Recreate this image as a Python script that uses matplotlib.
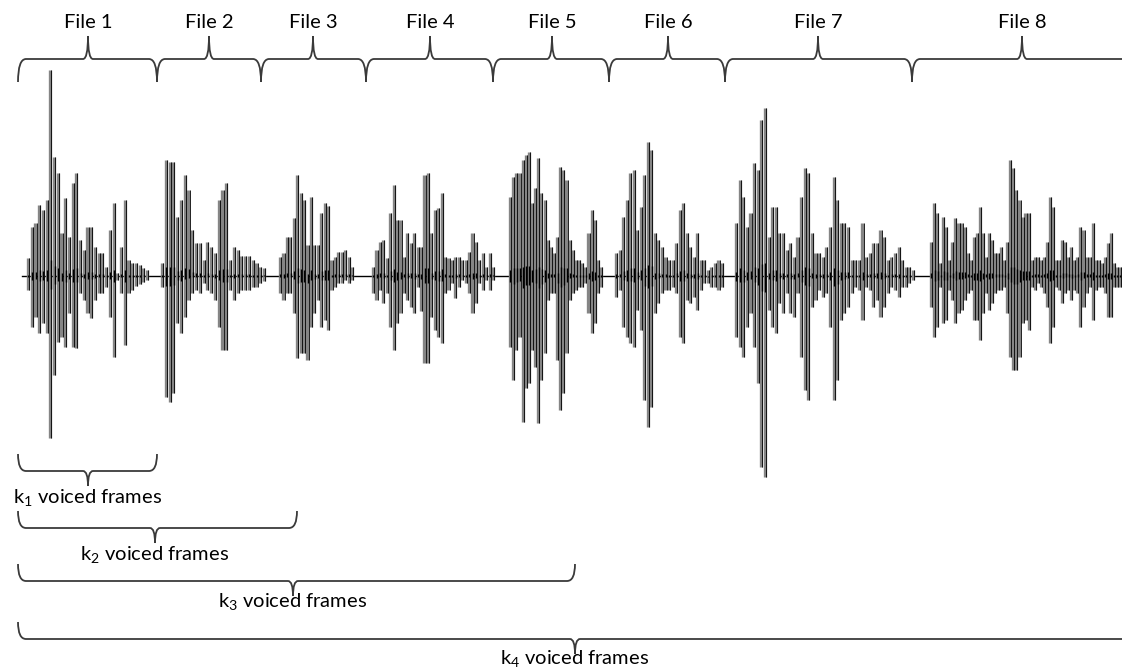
import numpy as np
import matplotlib
matplotlib.use("Agg")
import matplotlib.pyplot as plt
from matplotlib.path import Path
from matplotlib.patches import PathPatch

plt.rcParams['font.family'] = ['Lato', 'DejaVu Sans']

# file segments: boundaries (x, px) and label positions
file_labels = ['File 1', 'File 2', 'File 3', 'File 4', 'File 5', 'File 6', 'File 7', 'File 8']
file_edges = [18, 157, 261, 366, 493, 609, 725, 912, 1135]
file_mid = [88, 209, 313, 430, 552, 668, 818, 1022]

# voiced stretch of each file (start, end) and spike amplitudes (up, down)
voiced_span = [(28, 147), (162, 264), (280, 352), (373, 493), (510, 601), (616, 722), (736, 913), (931, 1120)]
amp_up = [
    [18, 49, 53, 71, 66, 76, 206, 119, 103, 43, 78, 39, 93, 103, 36, 26, 49, 49, 29, 23, 23, 9, 46, 73, 3, 29, 76, 16, 13, 13, 11, 8, 6],
    [13, 116, 114, 114, 59, 76, 101, 86, 46, 33, 33, 16, 34, 29, 23, 76, 86, 93, 16, 29, 26, 20, 20, 20, 16, 13, 9, 8],
    [19, 23, 39, 39, 58, 101, 83, 76, 31, 79, 31, 31, 63, 73, 70, 16, 19, 24, 24, 26, 19, 9],
    [9, 26, 34, 36, 18, 63, 91, 56, 56, 19, 43, 33, 43, 29, 29, 101, 103, 43, 66, 68, 83, 19, 18, 16, 19, 19, 16, 16, 24, 43, 34, 16, 23, 9, 23, 9],
    [79, 99, 103, 103, 116, 121, 124, 73, 88, 118, 83, 76, 36, 29, 23, 39, 109, 106, 96, 36, 26, 16, 16, 13, 9, 43, 66, 56, 16, 9],
    [23, 26, 59, 76, 103, 106, 46, 69, 101, 134, 126, 43, 36, 29, 19, 16, 16, 33, 66, 73, 43, 29, 19, 43, 16, 16, 6, 9, 13, 16, 13],
    [53, 96, 79, 49, 63, 113, 106, 156, 168, 39, 69, 69, 43, 43, 26, 33, 19, 39, 79, 108, 103, 43, 23, 23, 19, 29, 49, 99, 76, 53, 53, 49, 16, 16, 16, 53, 19, 23, 33, 33, 46, 39, 16, 19, 23, 29, 16, 9, 9, 6],
    [34, 73, 63, 13, 59, 49, 16, 34, 58, 53, 53, 49, 23, 16, 39, 43, 69, 43, 19, 43, 36, 23, 23, 29, 16, 34, 116, 108, 86, 76, 59, 63, 63, 16, 19, 19, 16, 19, 34, 79, 69, 16, 16, 36, 34, 19, 29, 16, 19, 49, 46, 19, 19, 53, 16, 16, 13, 19, 33, 43, 13, 9, 9],
]
amp_down = [
    [14, 51, 41, 57, 47, 57, 162, 99, 66, 61, 71, 37, 71, 72, 17, 24, 37, 42, 24, 17, 17, 11, 41, 81, 4, 17, 69, 17, 14, 10, 8, 6, 4],
    [11, 121, 126, 117, 47, 57, 41, 24, 17, 14, 17, 7, 14, 17, 24, 51, 74, 74, 14, 24, 17, 14, 14, 14, 11, 11, 7, 5],
    [17, 24, 17, 17, 37, 82, 77, 77, 84, 51, 37, 24, 51, 44, 54, 14, 11, 7, 7, 4, 7, 4],
    [17, 24, 14, 27, 17, 51, 74, 47, 37, 17, 24, 31, 37, 11, 35, 87, 87, 41, 54, 61, 67, 17, 14, 7, 22, 11, 4, 7, 17, 37, 27, 7, 14, 4, 14, 4],
    [71, 104, 74, 61, 146, 112, 107, 74, 91, 147, 104, 77, 24, 17, 17, 84, 134, 117, 77, 24, 17, 14, 11, 11, 7, 37, 57, 47, 17, 11],
    [21, 14, 51, 61, 67, 71, 34, 54, 124, 151, 131, 37, 27, 17, 14, 14, 11, 17, 61, 67, 24, 27, 21, 34, 14, 7, 7, 11, 11, 14, 11],
    [61, 71, 81, 51, 37, 71, 107, 191, 201, 34, 51, 57, 27, 37, 17, 37, 41, 17, 81, 114, 124, 31, 24, 14, 21, 17, 51, 124, 104, 44, 37, 31, 17, 11, 14, 44, 11, 14, 31, 24, 41, 31, 17, 11, 14, 21, 11, 11, 7, 4],
    [31, 61, 51, 11, 47, 44, 14, 24, 47, 37, 34, 24, 17, 14, 44, 44, 64, 37, 17, 34, 27, 17, 14, 14, 11, 37, 81, 94, 94, 81, 47, 44, 54, 11, 14, 7, 11, 17, 31, 67, 51, 11, 14, 27, 17, 14, 24, 14, 17, 51, 31, 17, 11, 44, 14, 11, 11, 17, 41, 41, 11, 11, 11],
]

# cumulative spans shown under the waveform
k_labels = ['1', '2', '3', '4']
k_ends = [157, 297, 575, 1135]
k_mid = [88, 155, 293, 575]

W, H = 1122, 671
fig = plt.figure(figsize=(W / 100, H / 100), dpi=100)
ax = fig.add_axes([0, 0, 1, 1])
ax.set_xlim(0, W)
ax.set_ylim(H, 0)
ax.axis('off')

yc = 276
ax.plot([22, W], [yc, yc], color='black', lw=1.0, zorder=1)

for (x0, x1), up, dn in zip(voiced_span, amp_up, amp_down):
    xs = np.linspace(x0, x1, len(up))
    up = np.array(up)
    dn = np.array(dn)
    ax.vlines(xs, yc - up, yc + dn, color='#858585', lw=2.4, zorder=2)
    ax.vlines(xs + 1.1, yc - up, yc + dn, color='black', lw=0.6, zorder=3)
    # short dark ticks near the centre where the trace crosses
    ax.vlines(xs + 0.5, yc - up * 0.08, yc + dn * 0.08, color='black', lw=1.0, zorder=3)


def brace(x0, x1, xc, y_line, y_end, y_tip, r=8, rc=5):
    verts = [(x0, y_end), (x0, y_line), (x0 + r, y_line),
             (xc - rc, y_line), (xc, y_line), (xc, y_tip),
             (xc, y_line), (xc + rc, y_line),
             (x1 - r, y_line), (x1, y_line), (x1, y_end)]
    codes = [Path.MOVETO, Path.CURVE3, Path.CURVE3,
             Path.LINETO, Path.CURVE3, Path.CURVE3,
             Path.CURVE3, Path.CURVE3,
             Path.LINETO, Path.CURVE3, Path.CURVE3]
    ax.add_patch(PathPatch(Path(verts, codes), fill=False, ec='#3a3a3a', lw=1.3, zorder=4))


# top braces
for i, lab in enumerate(file_labels):
    brace(file_edges[i], file_edges[i + 1], file_mid[i], 59, 82, 36)
    ax.text(file_mid[i], 22, lab, ha='center', va='center', fontsize=14.5, color='black')

# bottom braces
line_y = [471, 528, 581, 639]
text_y = [498, 555, 602, 659]
for i, k in enumerate(k_labels):
    brace(18, k_ends[i], k_mid[i], line_y[i], line_y[i] - 17, line_y[i] + 15)
    ax.text(k_mid[i], text_y[i], r'k$_\mathregular{%s}$ voiced frames' % k,
            ha='center', va='center', fontsize=14.5, color='black')

fig.savefig('out.png', dpi=100)
